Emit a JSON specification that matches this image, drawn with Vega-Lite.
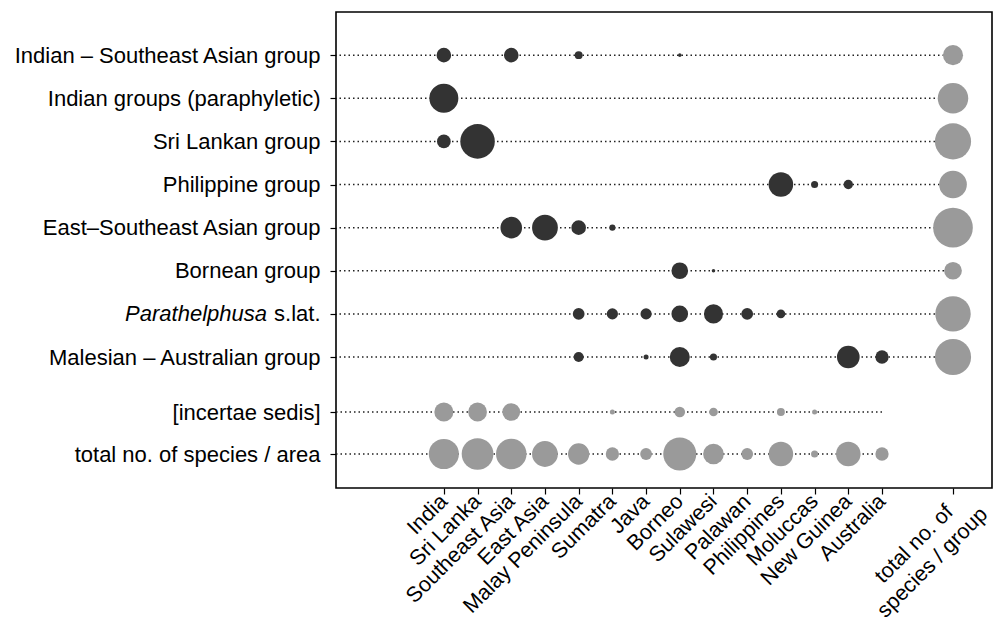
{
  "$schema": "https://vega.github.io/schema/vega-lite/v6.json",
  "width": 656,
  "height": 476,
  "autosize": {"type": "none"},
  "padding": {"left": 336, "top": 12, "right": 2, "bottom": 135},
  "background": "white",
  "config": {
    "font": "Liberation Sans",
    "view": {"stroke": "black", "strokeWidth": 1.6}
  },
  "datasets": {
    "areas": [
      {"a": "India", "col": 1}, {"a": "Sri Lanka", "col": 2}, {"a": "Southeast Asia", "col": 3},
      {"a": "East Asia", "col": 4}, {"a": "Malay Peninsula", "col": 5}, {"a": "Sumatra", "col": 6},
      {"a": "Java", "col": 7}, {"a": "Borneo", "col": 8}, {"a": "Sulawesi", "col": 9},
      {"a": "Palawan", "col": 10}, {"a": "Philippines", "col": 11}, {"a": "Moluccas", "col": 12},
      {"a": "New Guinea", "col": 13}, {"a": "Australia", "col": 14},
      {"a": "total no. of species / group", "col": 15}
    ],
    "groups": [
      {"g": "Indian – Southeast Asian group", "row": 1, "end": "total no. of species / group"},
      {"g": "Indian groups (paraphyletic)", "row": 2, "end": "total no. of species / group"},
      {"g": "Sri Lankan group", "row": 3, "end": "total no. of species / group"},
      {"g": "Philippine group", "row": 4, "end": "total no. of species / group"},
      {"g": "East–Southeast Asian group", "row": 5, "end": "total no. of species / group"},
      {"g": "Bornean group", "row": 6, "end": "total no. of species / group"},
      {"g": "Parathelphusa s.lat.", "row": 7, "end": "total no. of species / group"},
      {"g": "Malesian – Australian group", "row": 8, "end": "total no. of species / group"},
      {"g": "[incertae sedis]", "row": 9, "end": "Australia"},
      {"g": "total no. of species / area", "row": 10, "end": "Australia"}
    ],
    "cells": [
      {"g": "Indian – Southeast Asian group", "a": "India", "n": 17, "k": "area"},
      {"g": "Indian – Southeast Asian group", "a": "Southeast Asia", "n": 17, "k": "area"},
      {"g": "Indian – Southeast Asian group", "a": "Malay Peninsula", "n": 5, "k": "area"},
      {"g": "Indian – Southeast Asian group", "a": "Borneo", "n": 1, "k": "area"},
      {"g": "Indian – Southeast Asian group", "a": "total no. of species / group", "n": 32, "k": "total"},
      {"g": "Indian groups (paraphyletic)", "a": "India", "n": 67, "k": "area"},
      {"g": "Indian groups (paraphyletic)", "a": "total no. of species / group", "n": 74, "k": "total"},
      {"g": "Sri Lankan group", "a": "India", "n": 15, "k": "area"},
      {"g": "Sri Lankan group", "a": "Sri Lanka", "n": 95, "k": "area"},
      {"g": "Sri Lankan group", "a": "total no. of species / group", "n": 104, "k": "total"},
      {"g": "Philippine group", "a": "Philippines", "n": 48, "k": "area"},
      {"g": "Philippine group", "a": "Moluccas", "n": 4, "k": "area"},
      {"g": "Philippine group", "a": "New Guinea", "n": 7, "k": "area"},
      {"g": "Philippine group", "a": "total no. of species / group", "n": 61, "k": "total"},
      {"g": "East–Southeast Asian group", "a": "Southeast Asia", "n": 37, "k": "area"},
      {"g": "East–Southeast Asian group", "a": "East Asia", "n": 53, "k": "area"},
      {"g": "East–Southeast Asian group", "a": "Malay Peninsula", "n": 17, "k": "area"},
      {"g": "East–Southeast Asian group", "a": "Sumatra", "n": 3, "k": "area"},
      {"g": "East–Southeast Asian group", "a": "total no. of species / group", "n": 125, "k": "total"},
      {"g": "Bornean group", "a": "Borneo", "n": 22, "k": "area"},
      {"g": "Bornean group", "a": "Sulawesi", "n": 1, "k": "area"},
      {"g": "Bornean group", "a": "total no. of species / group", "n": 25, "k": "total"},
      {"g": "Parathelphusa s.lat.", "a": "Malay Peninsula", "n": 11, "k": "area"},
      {"g": "Parathelphusa s.lat.", "a": "Sumatra", "n": 10, "k": "area"},
      {"g": "Parathelphusa s.lat.", "a": "Java", "n": 10, "k": "area"},
      {"g": "Parathelphusa s.lat.", "a": "Borneo", "n": 22, "k": "area"},
      {"g": "Parathelphusa s.lat.", "a": "Sulawesi", "n": 29, "k": "area"},
      {"g": "Parathelphusa s.lat.", "a": "Palawan", "n": 11, "k": "area"},
      {"g": "Parathelphusa s.lat.", "a": "Philippines", "n": 6, "k": "area"},
      {"g": "Parathelphusa s.lat.", "a": "total no. of species / group", "n": 100, "k": "total"},
      {"g": "Malesian – Australian group", "a": "Malay Peninsula", "n": 8, "k": "area"},
      {"g": "Malesian – Australian group", "a": "Java", "n": 2, "k": "area"},
      {"g": "Malesian – Australian group", "a": "Borneo", "n": 32, "k": "area"},
      {"g": "Malesian – Australian group", "a": "Sulawesi", "n": 4, "k": "area"},
      {"g": "Malesian – Australian group", "a": "New Guinea", "n": 41, "k": "area"},
      {"g": "Malesian – Australian group", "a": "Australia", "n": 14, "k": "area"},
      {"g": "Malesian – Australian group", "a": "total no. of species / group", "n": 104, "k": "total"},
      {"g": "[incertae sedis]", "a": "India", "n": 29, "k": "total"},
      {"g": "[incertae sedis]", "a": "Sri Lanka", "n": 28, "k": "total"},
      {"g": "[incertae sedis]", "a": "Southeast Asia", "n": 25, "k": "total"},
      {"g": "[incertae sedis]", "a": "Sumatra", "n": 2, "k": "total"},
      {"g": "[incertae sedis]", "a": "Borneo", "n": 9, "k": "total"},
      {"g": "[incertae sedis]", "a": "Sulawesi", "n": 6, "k": "total"},
      {"g": "[incertae sedis]", "a": "Philippines", "n": 5, "k": "total"},
      {"g": "[incertae sedis]", "a": "Moluccas", "n": 2, "k": "total"},
      {"g": "total no. of species / area", "a": "India", "n": 72, "k": "total"},
      {"g": "total no. of species / area", "a": "Sri Lanka", "n": 80, "k": "total"},
      {"g": "total no. of species / area", "a": "Southeast Asia", "n": 74, "k": "total"},
      {"g": "total no. of species / area", "a": "East Asia", "n": 53, "k": "total"},
      {"g": "total no. of species / area", "a": "Malay Peninsula", "n": 36, "k": "total"},
      {"g": "total no. of species / area", "a": "Sumatra", "n": 14, "k": "total"},
      {"g": "total no. of species / area", "a": "Java", "n": 11, "k": "total"},
      {"g": "total no. of species / area", "a": "Borneo", "n": 87, "k": "total"},
      {"g": "total no. of species / area", "a": "Sulawesi", "n": 34, "k": "total"},
      {"g": "total no. of species / area", "a": "Palawan", "n": 11, "k": "total"},
      {"g": "total no. of species / area", "a": "Philippines", "n": 48, "k": "total"},
      {"g": "total no. of species / area", "a": "Moluccas", "n": 4, "k": "total"},
      {"g": "total no. of species / area", "a": "New Guinea", "n": 48, "k": "total"},
      {"g": "total no. of species / area", "a": "Australia", "n": 14, "k": "total"}
    ]
  },
  "layer": [
    {
      "data": {"name": "groups"},
      "transform": [
        {"lookup": "end", "from": {"data": {"name": "areas"}, "key": "a", "fields": ["col"]}, "as": ["endcol"]}
      ],
      "mark": {"type": "rule", "stroke": "#222222", "strokeWidth": 1.5, "strokeDash": [1.5, 3]},
      "encoding": {
        "x": {
          "field": "endcol", "type": "quantitative",
          "scale": {"domain": [-2.2, 14, 15, 16], "range": [0, 546, 617, 656], "zero": false, "nice": false},
          "axis": {
            "title": null, "grid": false, "domain": false,
            "values": [1, 2, 3, 4, 5, 6, 7, 8, 9, 10, 11, 12, 13, 14, 15],
            "labelExpr": "['', 'India', 'Sri Lanka', 'Southeast Asia', 'East Asia', 'Malay Peninsula', 'Sumatra', 'Java', 'Borneo', 'Sulawesi', 'Palawan', 'Philippines', 'Moluccas', 'New Guinea', 'Australia', ['total no. of', 'species / group']][datum.value]",
            "labelAngle": -45,
            "labelAlign": {"condition": {"test": "datum.value == 15", "value": "center"}, "value": "right"},
            "labelOffset": {"condition": {"test": "datum.value == 15", "value": -39}, "value": 0},
            "labelPadding": {"condition": {"test": "datum.value == 15", "value": 50}, "value": 4},
            "labelBaseline": "middle",
            "labelFontSize": 21.5, "labelColor": "black",
            "labelOverlap": false, "labelBound": false, "labelFlush": false, "labelLimit": 0,
            "labelLineHeight": 26,
            "tickColor": "black", "tickSize": 6, "tickWidth": 1.2
          }
        },
        "x2": {"datum": -2.2},
        "y": {
          "field": "row", "type": "quantitative",
          "scale": {"domain": [0, 8, 9, 10, 11], "range": [0, 345, 400, 442, 476], "zero": false, "nice": false},
          "axis": {
            "title": null, "grid": false, "domain": false,
            "values": [1, 2, 3, 4, 5, 6, 7, 8, 9, 10],
            "labelExpr": "['', 'Indian – Southeast Asian group', 'Indian groups (paraphyletic)', 'Sri Lankan group', 'Philippine group', 'East–Southeast Asian group', 'Bornean group', 's.lat.', 'Malesian – Australian group', '[incertae sedis]', 'total no. of species / area'][datum.value]",
            "labelFontSize": 22, "labelColor": "black", "labelPadding": 10,
            "labelOverlap": false, "labelBound": false, "labelFlush": false, "labelLimit": 0,
            "tickColor": "black", "tickSize": 6, "tickWidth": 1.2
          }
        }
      }
    },
    {
      "data": {"name": "cells"},
      "transform": [
        {"lookup": "a", "from": {"data": {"name": "areas"}, "key": "a", "fields": ["col"]}},
        {"lookup": "g", "from": {"data": {"name": "groups"}, "key": "g", "fields": ["row"]}}
      ],
      "mark": {"type": "circle", "opacity": 1},
      "encoding": {
        "x": {"field": "col", "type": "quantitative", "title": null},
        "y": {"field": "row", "type": "quantitative", "title": null},
        "size": {
          "field": "n", "type": "quantitative",
          "scale": {"type": "linear", "domain": [0, 125], "range": [0, 1571], "zero": true},
          "legend": null
        },
        "color": {
          "field": "k", "type": "nominal",
          "scale": {"domain": ["area", "total"], "range": ["#333333", "#9a9a9a"]},
          "legend": null
        }
      }
    },
    {
      "data": {"values": [{"row": 7, "t": "Parathelphusa"}]},
      "mark": {"type": "text", "align": "right", "baseline": "middle", "fontSize": 22, "fontStyle": "italic", "dx": -69, "color": "black"},
      "encoding": {
        "x": {"datum": -2.2, "type": "quantitative"},
        "y": {"field": "row", "type": "quantitative", "title": null},
        "text": {"field": "t"}
      }
    }
  ]
}
